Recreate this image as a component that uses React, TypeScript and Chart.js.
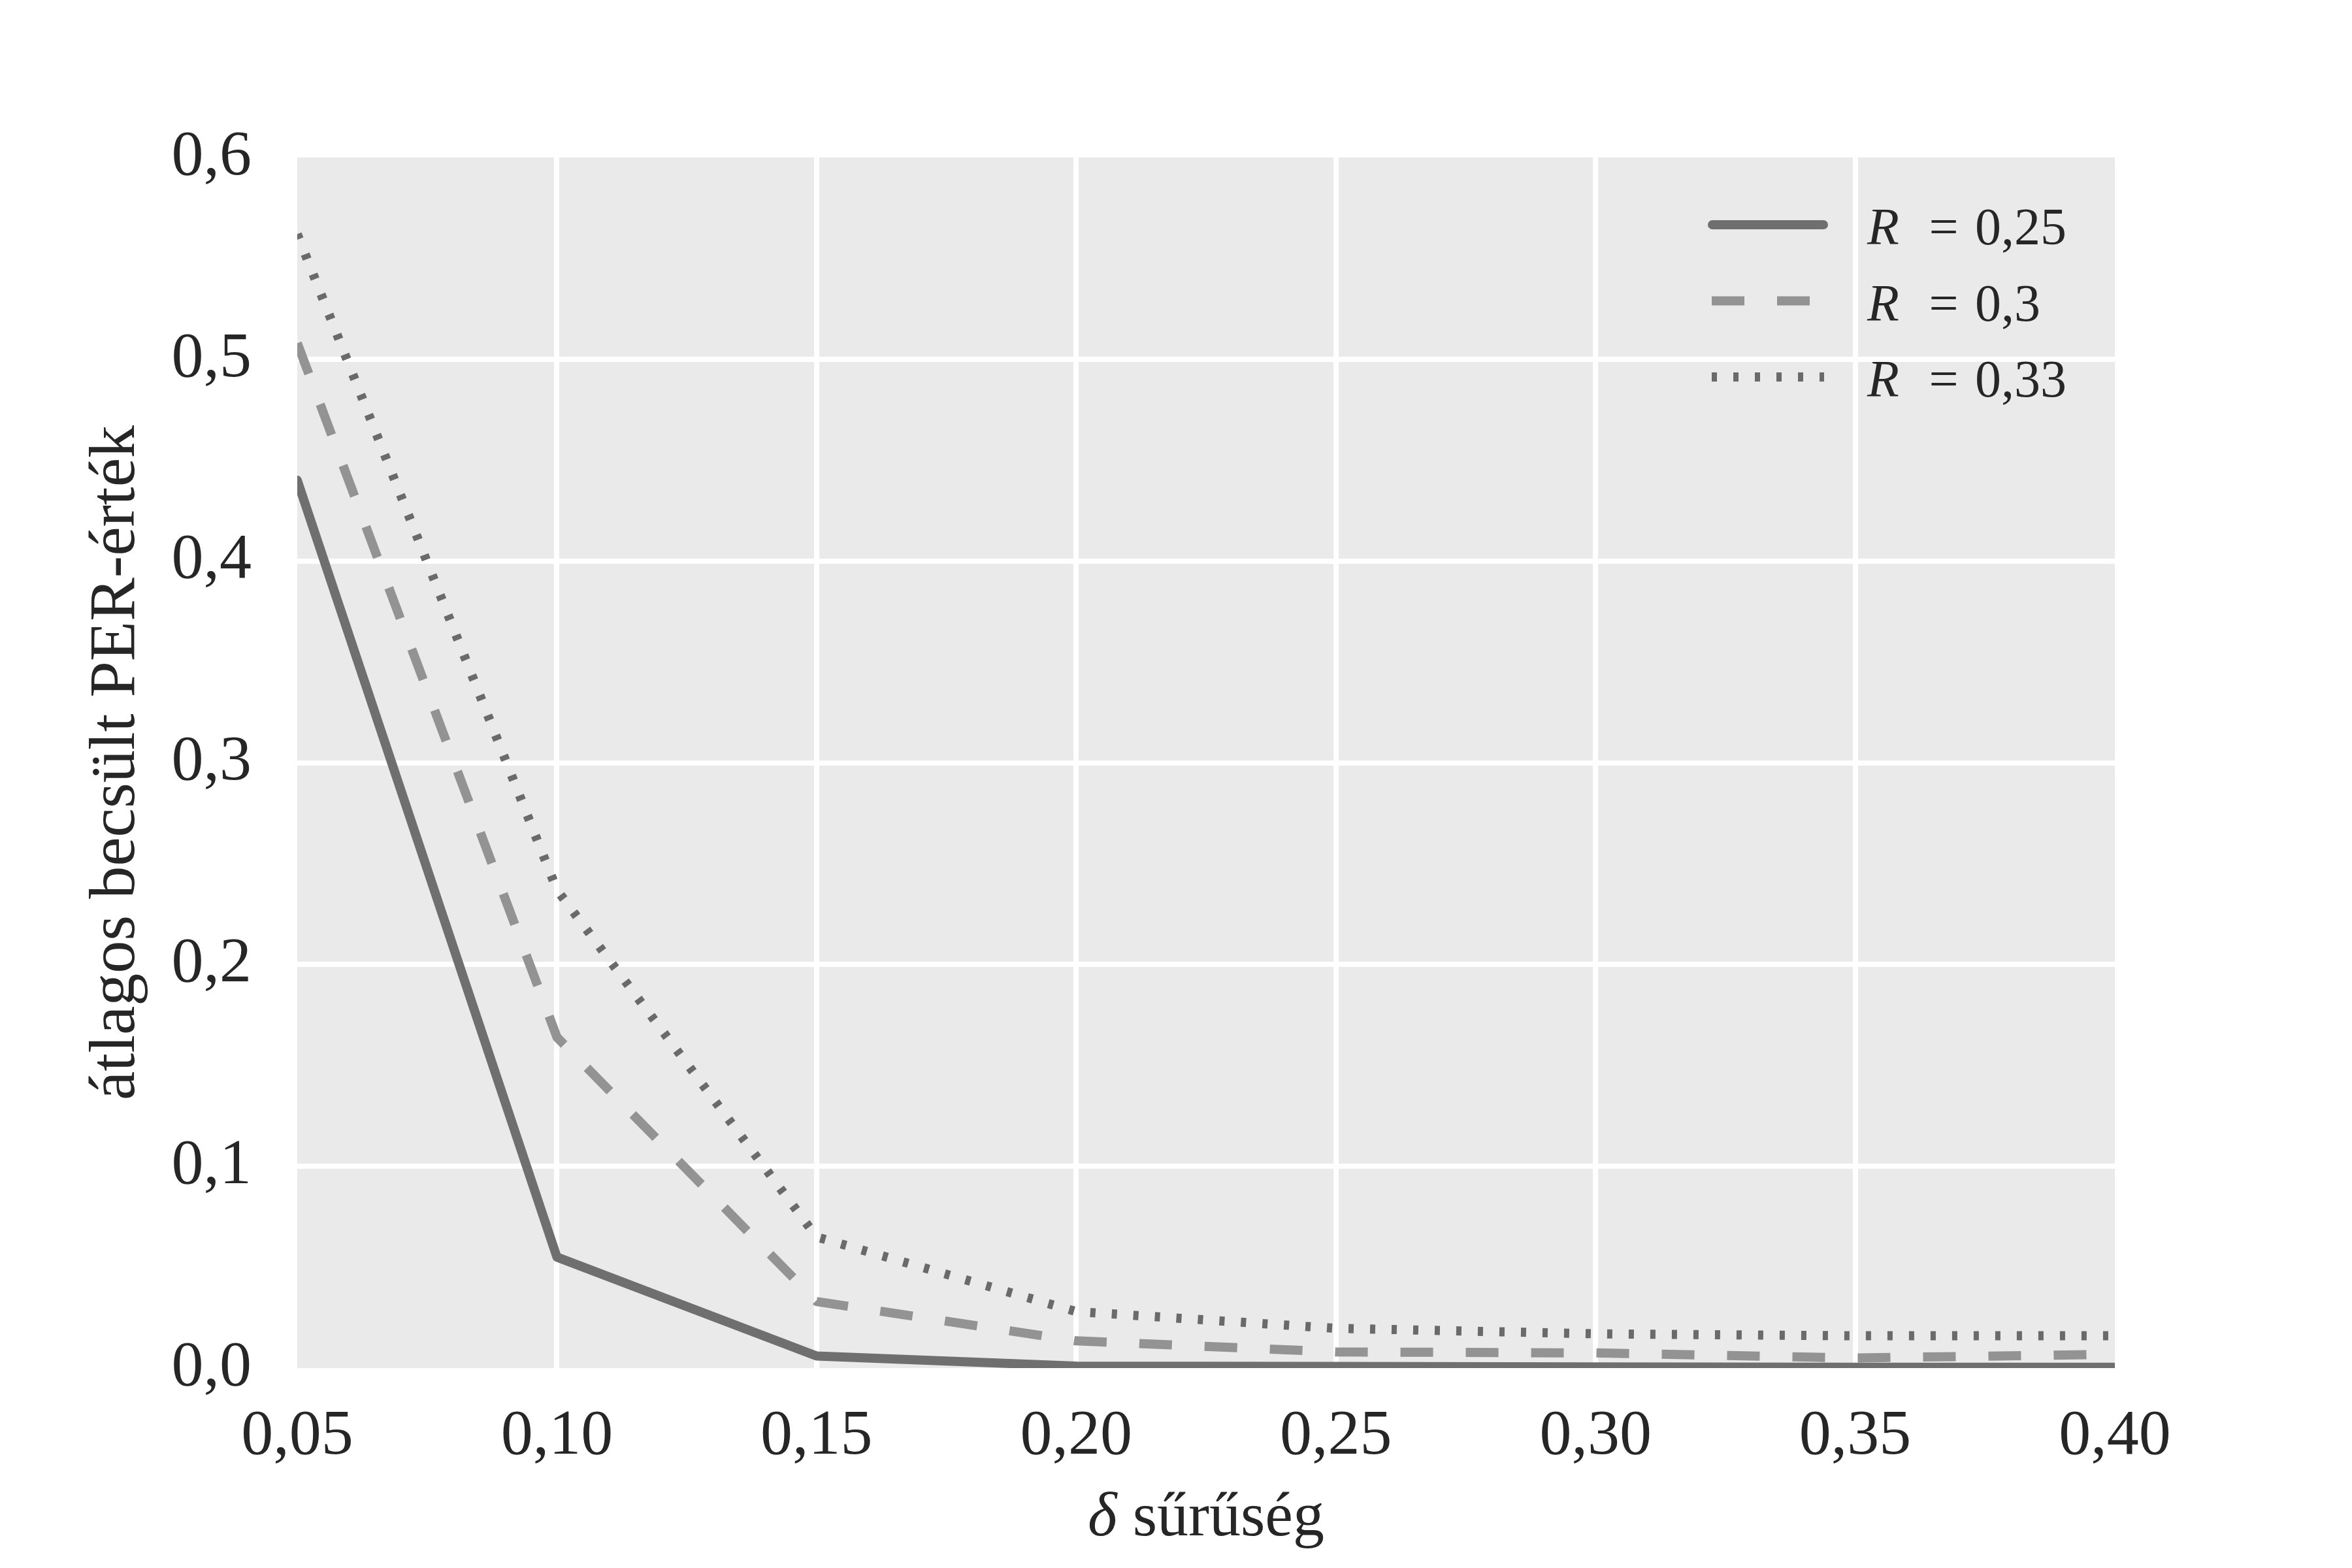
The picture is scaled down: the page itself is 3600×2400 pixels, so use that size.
import React, { useEffect, useRef } from 'react';
import { Chart, registerables } from 'chart.js';

Chart.register(...registerables);

// ---- data ----
const densities = [0.05, 0.1, 0.15, 0.2, 0.25, 0.3, 0.35, 0.4];
const perR025 = [0.44, 0.055, 0.006, 0.001, 0.0008, 0.0006, 0.0004, 0.0004];
const perR030 = [0.508, 0.164, 0.033, 0.0135, 0.008, 0.0075, 0.005, 0.0068];
const perR033 = [0.562, 0.237, 0.065, 0.028, 0.0197, 0.017, 0.016, 0.016];
const seriesRValues = ['0,25', '0,3', '0,33'];
const xTickValues = [0.05, 0.1, 0.15, 0.2, 0.25, 0.3, 0.35, 0.4];
const yTickValues = [0, 0.1, 0.2, 0.3, 0.4, 0.5, 0.6];
const xTitleSymbol = 'δ';
const xTitleWord = ' sűrűség';
const yTitle = 'átlagos becsült PER-érték';

const FONT = '"Liberation Serif", "DejaVu Serif", serif';
const TEXT = '#262626';

const fmtX = (v: number) => v.toFixed(2).replace('.', ',');
const fmtY = (v: number) => v.toFixed(1).replace('.', ',');

const bgPlugin = {
  id: 'plotBg',
  beforeDraw(chart: any) {
    const { ctx, chartArea } = chart;
    ctx.save();
    ctx.fillStyle = '#ffffff';
    ctx.fillRect(0, 0, chart.width, chart.height);
    ctx.fillStyle = '#EAEAEA';
    ctx.fillRect(chartArea.left, chartArea.top, chartArea.right - chartArea.left, chartArea.bottom - chartArea.top);
    ctx.restore();
  },
};

const decorPlugin = {
  id: 'decor',
  afterDraw(chart: any) {
    const { ctx, chartArea } = chart;
    const R = chartArea.right;
    const T = chartArea.top;
    ctx.save();
    // legend
    chart.data.datasets.forEach((ds: any, i: number) => {
      const y = T + 103 + i * 116.5;
      ctx.save();
      ctx.strokeStyle = ds.borderColor;
      ctx.lineWidth = ds.borderWidth;
      ctx.setLineDash(ds.borderDash || []);
      ctx.lineCap = ds.borderCapStyle;
      ctx.beginPath();
      if (ds.borderCapStyle === 'round') {
        ctx.moveTo(R - 616, y);
        ctx.lineTo(R - 446, y);
      } else {
        ctx.moveTo(R - 617, y);
        ctx.lineTo(R - 445, y);
      }
      ctx.stroke();
      ctx.restore();
      ctx.fillStyle = TEXT;
      ctx.textBaseline = 'alphabetic';
      ctx.font = `italic 80px ${FONT}`;
      ctx.textAlign = 'left';
      ctx.fillText('R', R - 379, y + 30);
      ctx.font = `80px ${FONT}`;
      ctx.textAlign = 'center';
      ctx.fillText('=', R - 262, y + 30);
      ctx.textAlign = 'left';
      ctx.fillText(ds.label, R - 214, y + 30);
    });
    // x title
    const cx = (chartArea.left + chartArea.right) / 2;
    ctx.font = `italic 96px ${FONT}`;
    const w1 = ctx.measureText(xTitleSymbol).width;
    ctx.font = `96px ${FONT}`;
    const w2 = ctx.measureText(xTitleWord).width;
    const x0 = cx - (w1 + w2) / 2;
    ctx.fillStyle = TEXT;
    ctx.textAlign = 'left';
    ctx.textBaseline = 'alphabetic';
    ctx.font = `italic 96px ${FONT}`;
    ctx.fillText(xTitleSymbol, x0, 2350);
    ctx.font = `96px ${FONT}`;
    ctx.fillText(xTitleWord, x0 + w1, 2350);
    ctx.restore();
  },
};

export default function App() {
  const ref = useRef<HTMLCanvasElement | null>(null);

  useEffect(() => {
    if (!ref.current) return;
    const edgeColor = (vals: number[]) => (c: any) => {
      const v = c.tick ? c.tick.value : undefined;
      if (v === vals[0] || v === vals[vals.length - 1]) return 'rgba(255,255,255,0)';
      return '#ffffff';
    };
    const chart = new Chart(ref.current, {
      type: 'line',
      data: {
        datasets: [
          {
            label: seriesRValues[0],
            data: densities.map((x, i) => ({ x, y: perR025[i] })),
            borderColor: '#6f6f6f',
            borderWidth: 14,
            borderDash: [],
            borderCapStyle: 'round',
            borderJoinStyle: 'round',
            pointRadius: 0,
            fill: false,
            tension: 0,
          },
          {
            label: seriesRValues[1],
            data: densities.map((x, i) => ({ x, y: perR030[i] })),
            borderColor: '#939393',
            borderWidth: 14,
            borderDash: [50, 50],
            borderCapStyle: 'butt',
            borderJoinStyle: 'round',
            pointRadius: 0,
            fill: false,
            tension: 0,
          },
          {
            label: seriesRValues[2],
            data: densities.map((x, i) => ({ x, y: perR033[i] })),
            borderColor: '#6a6a6a',
            borderWidth: 14,
            borderDash: [8, 25],
            borderCapStyle: 'butt',
            borderJoinStyle: 'round',
            pointRadius: 0,
            fill: false,
            tension: 0,
          },
        ] as any,
      },
      options: {
        responsive: false,
        devicePixelRatio: 1,
        animation: false,
        layout: { padding: { left: 0, top: 241, right: 363, bottom: 0 } },
        plugins: { legend: { display: false }, tooltip: { enabled: false } },
        scales: {
          x: {
            type: 'linear',
            min: xTickValues[0],
            max: xTickValues[xTickValues.length - 1],
            afterBuildTicks: (s: any) => {
              s.ticks = xTickValues.map((v) => ({ value: v }));
            },
            afterFit: (s: any) => {
              s.height = 306;
            },
            ticks: {
              callback: (v: any) => fmtX(Number(v)),
              font: { family: FONT, size: 98 },
              color: TEXT,
              padding: 46,
              maxRotation: 0,
              autoSkip: false,
            },
            grid: { color: edgeColor(xTickValues), lineWidth: 8, drawTicks: false },
            border: { display: false },
            title: { display: false },
          },
          y: {
            type: 'linear',
            min: yTickValues[0],
            max: yTickValues[yTickValues.length - 1],
            afterBuildTicks: (s: any) => {
              s.ticks = yTickValues.map((v) => ({ value: v }));
            },
            afterFit: (s: any) => {
              s.width = 455;
            },
            ticks: {
              callback: (v: any) => fmtY(Number(v)),
              font: { family: FONT, size: 98 },
              color: TEXT,
              padding: 70,
              autoSkip: false,
            },
            grid: { color: edgeColor(yTickValues), lineWidth: 8, drawTicks: false },
            border: { display: false },
            title: {
              display: true,
              text: yTitle,
              font: { family: FONT, size: 100 },
              color: TEXT,
              padding: { top: 119, bottom: 0 },
            },
          },
        },
      } as any,
      plugins: [bgPlugin, decorPlugin],
    });
    return () => chart.destroy();
  }, []);

  return (
    <div style={{ position: 'absolute', left: 0, top: 0, width: 3600, height: 2400 }}>
      <canvas ref={ref} width={3600} height={2400} style={{ width: 3600, height: 2400, display: 'block' }} />
    </div>
  );
}
